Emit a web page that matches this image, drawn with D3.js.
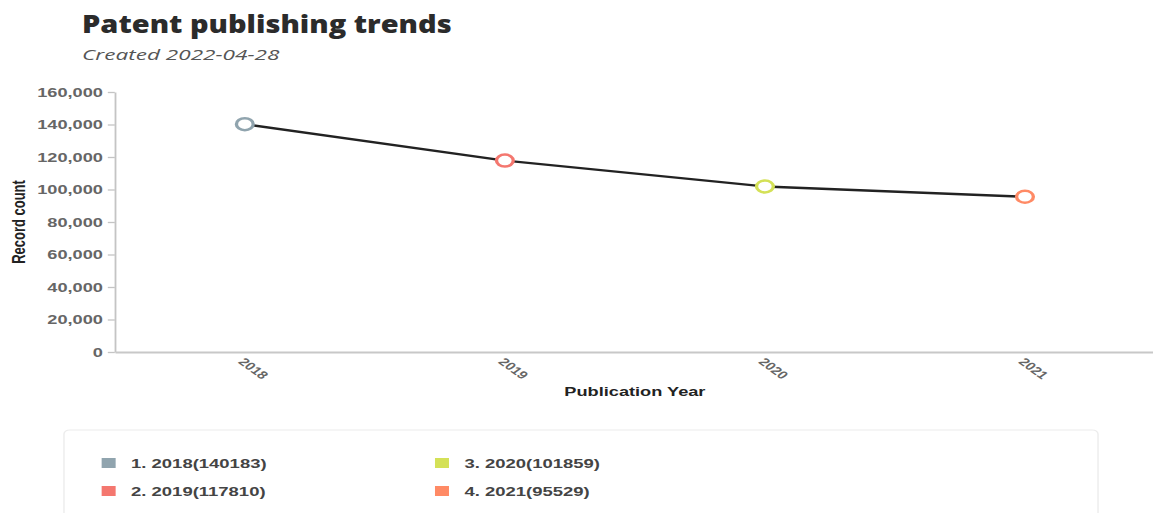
<!DOCTYPE html>
<html>
<head>
<meta charset="utf-8">
<script src="https://cdn.jsdelivr.net/npm/d3@7"></script>
<style>
  html, body { margin: 0; padding: 0; background: #fff; }
  svg { display: block; }
</style>
</head>
<body>
<svg id="chart"></svg>
<script>
// Publication counts per year
const years = ["2018", "2019", "2020", "2021"];
const counts = [140183, 117810, 101859, 95529];
const colors = ["#90a4ae", "#f4776f", "#d4e157", "#ff8a65"];
const yTicks = [0, 20000, 40000, 60000, 80000, 100000, 120000, 140000, 160000];

const W = 1153, H = 513;
const SX = 1.4;               // horizontal stretch of the drawing
const VW = W / SX;            // drawing units across

const svg = d3.select("#chart")
  .attr("width", W).attr("height", H)
  .attr("viewBox", `0 0 ${VW} ${H}`)
  .attr("preserveAspectRatio", "none");

const FONT = "'Liberation Sans', Arial, sans-serif";

// Header
svg.append("text")
  .attr("x", 58.6).attr("y", 33)
  .attr("font-family", "'Open Sans', sans-serif")
  .attr("font-weight", 800).attr("font-size", 25)
  .attr("fill", "#2b2b2b")
  .attr("textLength", 264).attr("lengthAdjust", "spacingAndGlyphs")
  .text("Patent publishing trends");

svg.append("text")
  .attr("x", 58.6).attr("y", 60)
  .attr("font-family", "'Open Sans', sans-serif")
  .attr("font-style", "italic").attr("font-size", 15)
  .attr("fill", "#555")
  .attr("textLength", 141).attr("lengthAdjust", "spacingAndGlyphs")
  .text("Created 2022-04-28");

// Scales
const x = d3.scalePoint().domain(years).range([82, 825]).padding(0.5);
const y = d3.scaleLinear().domain([0, 160000]).range([352, 92]);

// Y axis
const yAxis = svg.append("g")
  .attr("transform", `translate(${x.range()[0]},0)`)
  .call(d3.axisLeft(y).tickValues(yTicks).tickFormat(d3.format(",")).tickSize(5).tickSizeOuter(0).tickPadding(3.5));
yAxis.select(".domain").attr("stroke", "#c4c4c4").attr("stroke-width", 1.3);
yAxis.selectAll(".tick line").attr("stroke", "#c4c4c4").attr("stroke-width", 1.3);
yAxis.selectAll(".tick text")
  .attr("font-family", FONT).attr("font-size", 13).attr("font-weight", 700)
  .attr("fill", "#666");

// X axis
const xAxis = svg.append("g")
  .attr("transform", `translate(0,${y(0)})`)
  .call(d3.axisBottom(x).tickSize(0).tickSizeOuter(0));
xAxis.select(".domain").attr("stroke", "#c8c8c8").attr("stroke-width", 2);
xAxis.selectAll(".tick text")
  .attr("font-family", FONT).attr("font-size", 11).attr("font-weight", 700)
  .attr("fill", "#666")
  .attr("text-anchor", "start")
  .attr("x", 0).attr("y", 0).attr("dy", 0)
  .attr("transform", "translate(-5.7,10.5) rotate(45)");

// Axis titles
svg.append("text")
  .attr("x", (x.range()[0] + x.range()[1]) / 2).attr("y", 396)
  .attr("text-anchor", "middle")
  .attr("font-family", FONT).attr("font-size", 13).attr("font-weight", 700)
  .attr("fill", "#222")
  .text("Publication Year");

svg.append("text")
  .attr("transform", `translate(17.5,222) rotate(-90)`)
  .attr("text-anchor", "middle")
  .attr("font-family", FONT).attr("font-size", 13).attr("font-weight", 700)
  .attr("fill", "#222")
  .text("Record count");

// Line and markers
const pts = years.map((yr, i) => ({ yr, v: counts[i], c: colors[i] }));
svg.append("path")
  .datum(pts)
  .attr("fill", "none").attr("stroke", "#222").attr("stroke-width", 2.4)
  .attr("d", d3.line().x(d => x(d.yr)).y(d => y(d.v)));

svg.selectAll("circle.pt").data(pts).join("circle")
  .attr("class", "pt")
  .attr("cx", d => x(d.yr)).attr("cy", d => y(d.v)).attr("r", 6)
  .attr("fill", "#fff").attr("stroke", d => d.c).attr("stroke-width", 2.4);

// Legend
svg.append("rect")
  .attr("x", 45.7).attr("y", 430).attr("width", 738.6).attr("height", 120)
  .attr("rx", 4)
  .attr("fill", "#fff").attr("stroke", "#ececec").attr("stroke-width", 1);

const legCols = [72.6, 310.7];
const legRows = [458, 486];
const leg = svg.selectAll("g.leg").data(pts).join("g")
  .attr("class", "leg")
  .attr("transform", (d, i) => `translate(${legCols[Math.floor(i / 2)]},${legRows[i % 2]})`);
leg.append("rect")
  .attr("width", 10).attr("height", 10)
  .attr("fill", d => d.c);
leg.append("text")
  .attr("x", 21).attr("y", 5).attr("dy", "0.35em")
  .attr("font-family", FONT).attr("font-size", 13.2).attr("font-weight", 700)
  .attr("fill", "#444")
  .text((d, i) => `${i + 1}. ${d.yr}(${d.v})`);
</script>
</body>
</html>
